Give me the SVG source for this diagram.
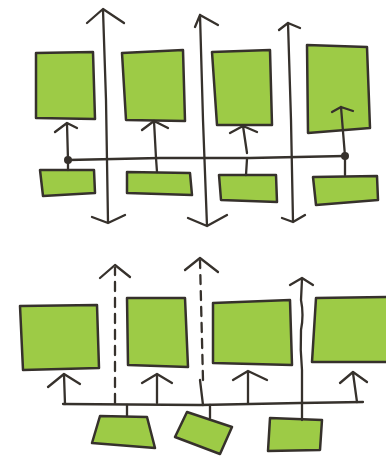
<svg xmlns="http://www.w3.org/2000/svg" width="386" height="457" viewBox="0 0 386 457">
<style>
.box{fill:#9dcb46;stroke:#36312c;stroke-width:2.5;stroke-linejoin:round}
.ln{fill:none;stroke:#36312c;stroke-width:2.3;stroke-linecap:round;stroke-linejoin:round}
.dash{stroke-dasharray:9 7}
.dot{fill:#36312c}
</style>
<rect width="386" height="457" fill="#ffffff"/>
<g id="top-large-1"><polygon class="box" points="36,53 93,52 95,119 36,118"/></g>
<g id="top-large-2"><polygon class="box" points="122,53 183,50 185,121 126,120"/></g>
<g id="top-large-3"><polygon class="box" points="212,52 270,50 272,125 217,125"/></g>
<g id="top-large-4"><polygon class="box" points="307,45 367,47 370,128 308,133"/></g>
<g id="top-small-1"><polygon class="box" points="40,170 94,170 95,193 43,196"/></g>
<g id="top-small-2"><polygon class="box" points="127,172 190,173 192,195 127,193"/></g>
<g id="top-small-3"><polygon class="box" points="219,175 276,175 277,202 221,200"/></g>
<g id="top-small-4"><polygon class="box" points="313,177 377,176 378,200 316,205"/></g>
<g id="bottom-large-1"><polygon class="box" points="20,306 97,305 99,368 23,370"/></g>
<g id="bottom-large-2"><polygon class="box" points="127,298 185,298 188,367 128,365"/></g>
<g id="bottom-large-3"><polygon class="box" points="213,303 290,300 292,365 213,363"/></g>
<g id="bottom-large-4"><polygon class="box" points="316,298 388,297 388,362 312,362"/></g>
<g id="bottom-small-1"><polygon class="box" points="100,416 147,417 155,448 92,443"/></g>
<g id="bottom-small-2"><polygon class="box" points="187,412 232,427 220,454 175,437"/></g>
<g id="bottom-small-3"><polygon class="box" points="270,418 322,420 320,450 268,451"/></g>
<g id="connectors">
<path class="ln" d="M103,10 L106,100 L108,222 M87,23 L103,9 L124,23 M92,217 L108,223 L125,215"/>
<path class="ln" d="M200,15 L203,120 L207,226 M195,27 L200,15 L218,25 M188,218 L207,226 L227,215"/>
<path class="ln" d="M288,23 L291,120 L293,222 M279,30 L288,23 L300,28 M282,218 L293,222 L305,215"/>
<path class="ln" d="M68,160 L160,158 L250,158 L345,156"/>
<circle class="dot" cx="68" cy="160" r="4"/>
<circle class="dot" cx="345" cy="156" r="4"/>
<path class="ln" d="M68,170 L68,160 L67,124 M55,132 L67,123 L77,128"/>
<path class="ln" d="M157,172 L156,158 L154,121 M142,130 L154,121 L168,128"/>
<path class="ln" d="M246,175 L247,159 M247,153 L243,126 M230,133 L243,126 L257,132"/>
<path class="ln" d="M345,175 L345,156 L341,107 M332,112 L341,107 L353,111"/>
<path class="ln" d="M63,404 L200,405 L300,403 L363,402"/>
<path class="ln" d="M65,404 L64,375 M48,387 L64,374 L80,384"/>
<path class="ln" d="M157,403 L157,375 M142,383 L157,374 L172,383"/>
<path class="ln" d="M248,403 L248,372 M233,380 L248,371 L267,380"/>
<path class="ln" d="M357,402 L353,373 M340,383 L353,372 L367,382"/>
<path class="ln" d="M127,405 L127,416"/>
<path class="ln" d="M210,405 L210,418"/>
<path class="ln dash" d="M115,403 L115,268"/>
<path class="ln" d="M100,278 L115,265 L130,277"/>
<path class="ln dash" d="M203,380 L200,261"/>
<path class="ln" d="M200,380 L203,405"/>
<path class="ln" d="M185,270 L200,258 L218,272"/>
<path class="ln" d="M302,420 L302,370 Q300,350 301,330 Q304,315 301,300 L302,279 M290,285 L302,278 L313,285"/>
</g>
</svg>
